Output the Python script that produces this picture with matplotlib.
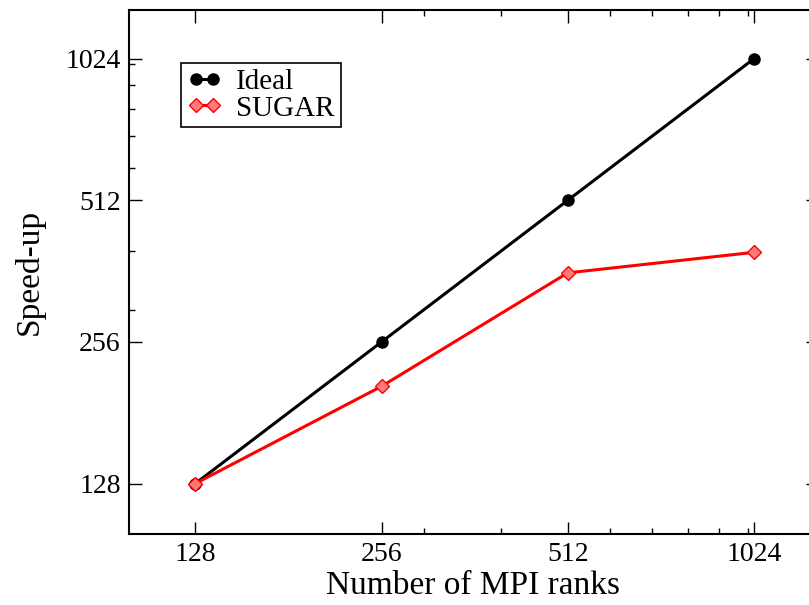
import matplotlib
matplotlib.use("Agg")
import matplotlib.pyplot as plt
from matplotlib.ticker import FixedLocator, NullFormatter

# Data
mpi_ranks = [128, 256, 512, 1024]
ideal_speedup = [128, 256, 512, 1024]
sugar_speedup = [128, 206, 359, 397]
major_ticks = [128, 256, 512, 1024]
minor_ticks = [300, 400, 600, 700, 800, 900, 1000]

plt.rcParams['font.family'] = ['Liberation Serif', 'DejaVu Serif']

fig = plt.figure(figsize=(8.09, 6.05), dpi=100)
# right spine sits just past the image edge, as in the reference
ax = fig.add_axes([129 / 809, 71 / 605, (818 - 129) / 809, 524 / 605])

ax.plot(mpi_ranks, ideal_speedup, color='black', linewidth=2.2, marker='o',
        markersize=8, label='Ideal', zorder=3)
ax.plot(mpi_ranks, sugar_speedup, color='red', linewidth=2.2, marker='D',
        markersize=7.5, markerfacecolor='#ff7a7a', markeredgecolor='red',
        markeredgewidth=1.0, label='SUGAR', zorder=4)

ax.set_xscale('log', base=2)
ax.set_yscale('log', base=2)
ax.set_xlim(100, 1300)
ax.set_ylim(100, 1300)

for axis in (ax.xaxis, ax.yaxis):
    axis.set_major_locator(FixedLocator(major_ticks))
    axis.set_minor_locator(FixedLocator(minor_ticks))
    axis.set_minor_formatter(NullFormatter())
ax.set_xticklabels([str(v) for v in major_ticks])
ax.set_yticklabels([str(v) for v in major_ticks])

ax.tick_params(which='both', direction='in', top=True, right=True, width=1.0)
ax.tick_params(which='major', length=9, labelsize=20)
ax.tick_params(axis='x', which='major', pad=6)
ax.tick_params(axis='y', which='major', pad=6)
ax.tick_params(which='minor', length=4.5)
for s in ax.spines.values():
    s.set_linewidth(1.5)

ax.set_xlabel("Number of MPI ranks", fontsize=24, labelpad=2)
ax.set_ylabel("Speed-up", fontsize=24, labelpad=15)

leg = ax.legend(loc='upper left', bbox_to_anchor=(52 / 689, 0.899), fontsize=21,
                numpoints=2, handlelength=1.2, handletextpad=0.5,
                borderpad=0.2, labelspacing=0.0, borderaxespad=0,
                fancybox=False, framealpha=1)
leg.get_frame().set_edgecolor('black')
leg.get_frame().set_linewidth(1.2)

fig.savefig("out.png", dpi=100)
